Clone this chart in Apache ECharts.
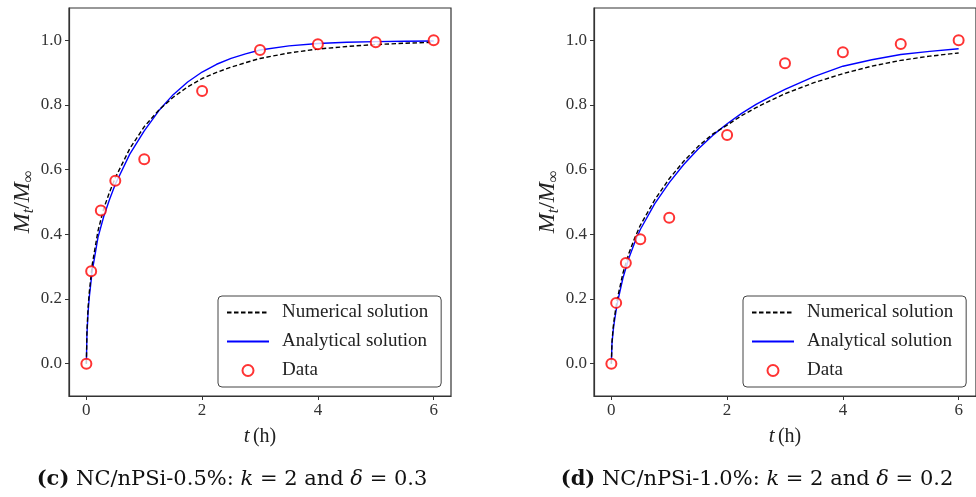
<!DOCTYPE html>
<html><head><meta charset="utf-8">
<script src="https://cdn.jsdelivr.net/npm/echarts@6/dist/echarts.min.js"></script>
<style>html,body{margin:0;padding:0;background:#fff}#c{width:976px;height:497px}</style>
</head><body><div id="c"></div>
<script>
// ---- data ----
const xTicks = [0, 2, 4, 6];
const yTicks = [0, 0.2, 0.4, 0.6, 0.8, 1.0];
const tCurve = [0, 0.01, 0.03, 0.05, 0.1, 0.2, 0.3, 0.4, 0.5, 0.75, 1.0, 1.25, 1.5, 1.75, 2.0, 2.25, 2.5, 2.75, 3.0, 3.5, 4.0, 4.5, 5.0, 5.5, 6.0];
const numericalC = [0, 0.10, 0.175, 0.22, 0.305, 0.41, 0.48, 0.53, 0.575, 0.665, 0.733, 0.784, 0.824, 0.856, 0.882, 0.901, 0.917, 0.931, 0.944, 0.961, 0.973, 0.981, 0.987, 0.991, 0.994];
const analyticalC = [0, 0.09, 0.16, 0.205, 0.285, 0.39, 0.455, 0.508, 0.555, 0.648, 0.72, 0.782, 0.832, 0.871, 0.902, 0.926, 0.944, 0.958, 0.970, 0.983, 0.990, 0.994, 0.996, 0.997, 0.998];
const numericalD = [0, 0.065, 0.11, 0.14, 0.198, 0.28, 0.34, 0.387, 0.428, 0.507, 0.572, 0.626, 0.672, 0.71, 0.738, 0.767, 0.792, 0.814, 0.835, 0.869, 0.897, 0.92, 0.938, 0.951, 0.961];
const analyticalD = [0, 0.06, 0.10, 0.128, 0.185, 0.265, 0.325, 0.373, 0.415, 0.495, 0.56, 0.616, 0.664, 0.706, 0.742, 0.774, 0.802, 0.826, 0.848, 0.888, 0.92, 0.94, 0.956, 0.966, 0.974];
const tData = [0, 0.083, 0.25, 0.5, 1, 2, 3, 4, 5, 6];
const dataC = [0, 0.286, 0.474, 0.566, 0.632, 0.843, 0.970, 0.988, 0.994, 1.0];
const dataD = [0, 0.188, 0.311, 0.385, 0.451, 0.707, 0.929, 0.963, 0.989, 1.0];
const seriesNames = ['Numerical solution', 'Analytical solution', 'Data'];
const captionC = ['(c)', 'NC/nPSi-0.5%: ', 'k', ' = 2 and ', 'δ', ' = 0.3'];
const captionD = ['(d)', 'NC/nPSi-1.0%: ', 'k', ' = 2 and ', 'δ', ' = 0.2'];

// ---- chart ----
const SERIF = '"Liberation Serif", "DejaVu Serif", serif';
const CAPF = '"DejaVu Serif", serif';
const AX = '#333';
const pair = (xs, ys) => xs.map((x, i) => [x, ys[i]]);

function xAxis(gi) {
  return {
    type: 'value', gridIndex: gi, min: -0.3, max: 6.3,
    name: '{i|t} {n|(h)}', nameLocation: 'middle', nameGap: 30,
    nameTextStyle: { rich: {
      i: { fontFamily: SERIF, fontStyle: 'italic', fontSize: 21, color: '#222' },
      n: { fontFamily: SERIF, fontSize: 20, color: '#222' } } },
    axisLine: { show: true, onZero: false, lineStyle: { color: AX, width: 1.2 } },
    axisTick: { show: true, inside: false, length: 4, customValues: xTicks, lineStyle: { color: AX, width: 1 } },
    axisLabel: { show: true, customValues: xTicks, margin: 6, fontFamily: SERIF, fontSize: 17, color: '#333',
      formatter: v => String(Math.round(v)) },
    splitLine: { show: false }
  };
}
function yAxis(gi) {
  return {
    type: 'value', gridIndex: gi, min: -0.1, max: 1.1,
    name: '{m|M}{s|t}{u|/}{m|M}{s|∞}', nameLocation: 'middle', nameGap: 26, nameRotate: 90,
    nameTextStyle: { rich: {
      m: { fontFamily: SERIF, fontStyle: 'italic', fontSize: 24, color: '#222', lineHeight: 28 },
      u: { fontFamily: SERIF, fontSize: 24, color: '#222', lineHeight: 28 },
      s: { fontFamily: SERIF, fontStyle: 'italic', fontSize: 16, color: '#222', verticalAlign: 'bottom', lineHeight: 28 } } },
    axisLine: { show: true, onZero: false, lineStyle: { color: AX, width: 1.2 } },
    axisTick: { show: true, inside: false, length: 4, customValues: yTicks, lineStyle: { color: AX, width: 1 } },
    axisLabel: { show: true, customValues: yTicks, margin: 7, fontFamily: SERIF, fontSize: 17, color: '#333',
      formatter: v => v.toFixed(1) },
    splitLine: { show: false }
  };
}
function series(gi, num, ana, dat) {
  return [
    { name: seriesNames[0], type: 'line', xAxisIndex: gi, yAxisIndex: gi, data: pair(tCurve, num),
      showSymbol: false, symbol: 'none', smooth: false,
      lineStyle: { color: '#000', width: 1.4, type: [4.5, 2.5] }, itemStyle: { color: '#000' }, z: 3 },
    { name: seriesNames[1], type: 'line', xAxisIndex: gi, yAxisIndex: gi, data: pair(tCurve, ana),
      showSymbol: false, symbol: 'none', smooth: false,
      lineStyle: { color: '#0000ff', width: 1.4 }, itemStyle: { color: '#0000ff' }, z: 2 },
    { name: seriesNames[2], type: 'scatter', xAxisIndex: gi, yAxisIndex: gi, data: pair(tData, dat),
      symbol: 'emptyCircle', symbolSize: 10,
      itemStyle: { color: '#ff0000', borderColor: '#ff0000', borderWidth: 1 }, z: 4 }
  ];
}
function legend(left) {
  return {
    orient: 'vertical', left: left, top: 296, padding: [7, 13, 7, 8],
    backgroundColor: '#fff', borderColor: '#444', borderWidth: 1, borderRadius: 4,
    itemWidth: 42, itemHeight: 11, itemGap: 10,
    data: [
      { name: seriesNames[0], itemStyle: { opacity: 0 } },
      { name: seriesNames[1], itemStyle: { opacity: 0 } },
      { name: seriesNames[2] }
    ],
    textStyle: { fontFamily: SERIF, fontSize: 19, color: '#222', padding: [0, 0, 0, 8] },
    selectedMode: false
  };
}
function caption(x, parts) {
  return { type: 'text', x: x, y: 480, style: {
    text: '{b|' + parts[0] + '} ' + parts[1] + '{i|' + parts[2] + '}' + parts[3] + '{i|' + parts[4] + '}' + parts[5],
    align: 'center', verticalAlign: 'middle',
    font: '21px ' + CAPF, fill: '#111',
    rich: { b: { fontWeight: 'bold', fontFamily: CAPF, fontSize: 21, fill: '#111' },
            i: { fontStyle: 'italic', fontFamily: CAPF, fontSize: 21, fill: '#111' } } } };
}

const chart = echarts.init(document.getElementById('c'), null, { renderer: 'canvas' });
chart.setOption({
  animation: false,
  backgroundColor: '#fff',
  grid: [
    { left: 69, top: 8, width: 382, height: 388, show: true, borderColor: AX, borderWidth: 1.2, backgroundColor: 'transparent' },
    { left: 594, top: 8, width: 382, height: 388, show: true, borderColor: AX, borderWidth: 1.2, backgroundColor: 'transparent' }
  ],
  xAxis: [xAxis(0), xAxis(1)],
  yAxis: [yAxis(0), yAxis(1)],
  legend: [legend(218), legend(743)],
  series: [].concat(series(0, numericalC, analyticalC, dataC), series(1, numericalD, analyticalD, dataD)),
  graphic: [caption(232, captionC), caption(757, captionD)]
});
</script></body></html>
